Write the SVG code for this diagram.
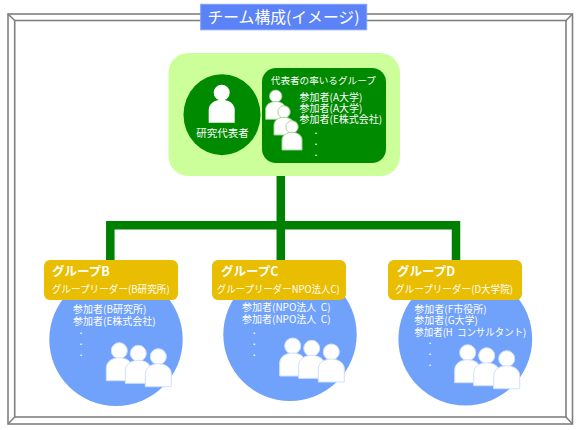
<svg xmlns="http://www.w3.org/2000/svg" width="580" height="430" viewBox="0 0 580 430">
<style>
text{font-family:"Noto Sans CJK JP","Liberation Sans",sans-serif;fill:#fff}
.s{font-size:10px}
.t{font-size:9.6px}
.m{font-size:10.500px}
.h{font-size:12.500px;font-weight:bold}
.d{font-family:"Liberation Sans",sans-serif;font-size:9px;font-weight:bold;text-anchor:middle}
.f{fill:none;stroke:#808080;stroke-width:1.6}
.p{fill:#fff}
.o{fill:#fff;stroke:#cfe0ff;stroke-width:1}
.og{fill:#fff;stroke:#9fd08f;stroke-width:1.2}
.card{fill:#e9bd00}
.blob{fill:#70a2fb}
.line{fill:none;stroke:#008000;stroke-width:8.500}
</style>
<defs>
<g id="person"><circle cx="0" cy="-17" r="8"/><path d="M-13 13V0C-13-6-7-10 0-10C7-10 13-6 13 0V13Z"/></g>
</defs>
<rect width="580" height="430" fill="#fff"/>
<g id="frame">
<rect class="f" x="8" y="14" width="564.500" height="410"/>
<rect class="f" x="14.700" y="20.500" width="551.300" height="396.500"/>
<path class="f" d="M8 14L14.700 20.500M572.500 14L566 20.500M8 424L14.700 417M572.500 424L566 417" stroke-width="1"/>
</g>
<g id="title">
<rect x="200.700" y="4.300" width="166" height="25.500" fill="#5b82f6" stroke="#7fa0fa" stroke-width="1"/>
<text x="283.500" y="23" text-anchor="middle" font-size="15.500" textLength="152" lengthAdjust="spacingAndGlyphs">チーム構成(イメージ)</text>
</g>
<g id="connectors">
<path class="line" d="M280.800 176V225.200M110.300 260V225.200H456V260M280.800 225V260"/>
</g>
<g id="lead-panel">
<rect x="168.500" y="53" width="231.500" height="123" rx="20" fill="#ccff99"/>
</g>
<g id="leader">
<ellipse cx="222" cy="114.700" rx="38.500" ry="40.500" fill="#008a00"/>
<use href="#person" x="221.700" y="109.700" class="p"/>
<text class="m" x="222.500" y="136.500" text-anchor="middle">研究代表者</text>
</g>
<g id="lead-group">
<rect x="262" y="68" width="124" height="95" rx="14" fill="#008a00"/>
<text class="t" x="323.300" y="83.500" text-anchor="middle">代表者の率いるグループ</text>
<use href="#person" transform="translate(275.700 109.300) scale(.77)" class="og"/>
<use href="#person" transform="translate(284 125) scale(.77)" class="og"/>
<use href="#person" transform="translate(292 140) scale(.77)" class="og"/>
<text class="s"><tspan x="299.500" y="100.500">参加者(A大学)</tspan><tspan x="299.500" y="112">参加者(A大学)</tspan><tspan x="299.500" y="123">参加者(E株式会社)</tspan></text>
<text class="d" x="316" y="134">.</text>
<text class="d" x="316" y="145">.</text>
<text class="d" x="316" y="156">.</text>
</g>
<g id="group-b">
<ellipse class="blob" cx="116" cy="339.500" rx="66.700" ry="66.500"/>
<use href="#person" x="119.300" y="367.700" class="o"/>
<use href="#person" x="138.300" y="370.300" class="o"/>
<use href="#person" x="158.300" y="373.700" class="o"/>
<rect class="card" x="44" y="260" width="134" height="40" rx="6"/>
<text class="h" x="52" y="275.500">グループB</text>
<text class="s" x="51.700" y="293" textLength="118" lengthAdjust="spacingAndGlyphs">グループリーダー(B研究所)</text>
<text class="s"><tspan x="73" y="313">参加者(B研究所)</tspan><tspan x="73" y="325">参加者(E株式会社)</tspan></text>
<text class="d" x="81" y="334">.</text>
<text class="d" x="81" y="345">.</text>
<text class="d" x="81" y="356">.</text>
</g>
<g id="group-c">
<ellipse class="blob" cx="290" cy="334.500" rx="66.700" ry="66.500"/>
<use href="#person" x="292.700" y="363" class="o"/>
<use href="#person" x="311.700" y="365.300" class="o"/>
<use href="#person" x="331.300" y="369" class="o"/>
<rect class="card" x="212" y="260" width="134" height="40" rx="6"/>
<text class="h" x="221" y="276">グループC</text>
<text class="s" x="216.700" y="293" textLength="123" lengthAdjust="spacingAndGlyphs">グループリーダーNPO法人C)</text>
<text class="s" xml:space="preserve"><tspan x="242" y="311">参加者(NPO法人  C)</tspan><tspan x="242" y="323">参加者(NPO法人  C)</tspan></text>
<text class="d" x="254.300" y="334">.</text>
<text class="d" x="254.300" y="345">.</text>
<text class="d" x="254.300" y="356">.</text>
</g>
<g id="group-d">
<ellipse class="blob" cx="465.300" cy="339" rx="66.900" ry="66.500"/>
<use href="#person" x="467.700" y="369.700" class="o"/>
<use href="#person" x="486.700" y="372.700" class="o"/>
<use href="#person" x="506.700" y="375.700" class="o"/>
<rect class="card" x="388" y="260" width="134" height="40" rx="6"/>
<text class="h" x="397" y="276">グループD</text>
<text class="s" x="395" y="293" textLength="118" lengthAdjust="spacingAndGlyphs">グループリーダー(D大学院)</text>
<text class="s" xml:space="preserve"><tspan x="414.300" y="313">参加者(F市役所)</tspan><tspan x="414.300" y="324">参加者(G大学)</tspan></text>
<text class="s" xml:space="preserve" x="414.300" y="335.500" textLength="112" lengthAdjust="spacingAndGlyphs">参加者(H  コンサルタント)</text>
<text class="d" x="430" y="344">.</text>
<text class="d" x="430" y="355">.</text>
<text class="d" x="430" y="366">.</text>
</g>
</svg>
